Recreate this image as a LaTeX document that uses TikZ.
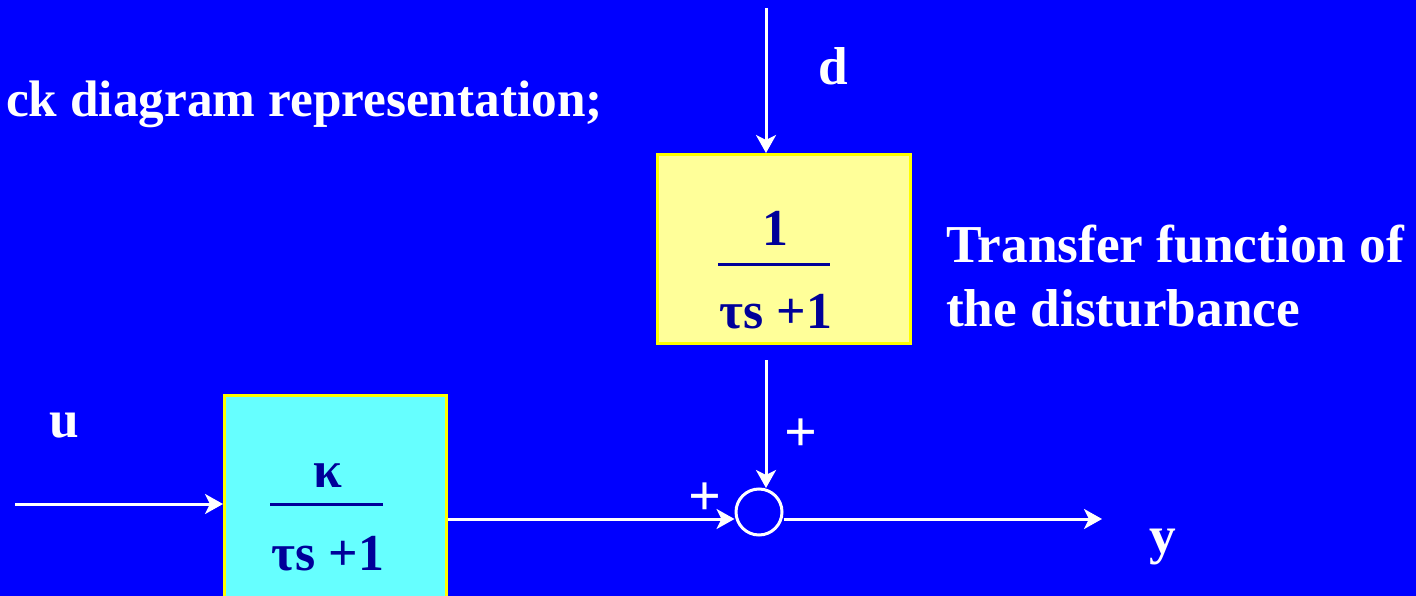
\documentclass[tikz,border=0pt]{standalone}
\usepackage{fontspec}
\setmainfont{Liberation Serif}
\usetikzlibrary{arrows.meta}
\definecolor{bgblue}{HTML}{0000FF}
\definecolor{boxyellow}{HTML}{FFFF99}
\definecolor{boxcyan}{HTML}{66FFFF}
\definecolor{edgeyellow}{HTML}{FFFF00}
\definecolor{inkblue}{HTML}{000099}
\tikzset{
  lbl/.style={text=white, font=\fontsize{53.5}{62}\selectfont\bfseries, inner sep=0pt},
  ttl/.style={text=white, font=\fontsize{51.5}{62}\selectfont\bfseries, inner sep=0pt},
  sgn/.style={text=white, font=\fontsize{58}{66}\selectfont\bfseries, inner sep=0pt},
  fr/.style={text=inkblue, font=\fontsize{52}{62}\selectfont\bfseries, inner sep=0pt},
  blk/.style={draw=edgeyellow, line width=3bp, inner sep=0pt},
  sig/.style={draw=white, line width=3bp, -{Stealth[length=18bp,width=20bp,inset=5bp]}},
  bar/.style={draw=inkblue, line width=3bp},
}
\begin{document}
\begin{tikzpicture}[x=1bp,y=-1bp]
\fill[bgblue] (0,0) rectangle (1416,596);
\useasboundingbox (0,0) rectangle (1416,596);
\begin{scope}
\clip (0,0) rectangle (1416,596);
% title
\node[ttl, anchor=base east] (title) at (603,117) {ck diagram representation;};
% disturbance block
\node[blk, fill=boxyellow, minimum width=253bp, minimum height=189bp, anchor=north west] (gd) at (656,153) {};
\node[fr, anchor=base] (gdnum) at (775,245) {1};
\draw[bar] (718,264) -- (830,264);
\node[fr, anchor=base] (gdden) at (776,328) {τs +1};
% process block
\node[blk, fill=boxcyan, minimum width=222bp, minimum height=240bp, anchor=north west] (gp) at (223,394) {};
\node[fr, anchor=base] (gpnum) at (328,487) {κ};
\draw[bar] (270,504) -- (383,504);
\node[fr, anchor=base] (gpden) at (328,570) {τs +1};
% summing junction
\node[draw=white, line width=3bp, circle, minimum size=46bp, inner sep=0pt] (sum) at (759,512) {};
% coordinates
\coordinate (dtop) at (766,8);
\coordinate (dbot) at (766,360);
\coordinate (uin) at (15,504);
\coordinate (yout) at (1102,519);
% connectors
\draw[sig] (dtop) -- (gd.north -| dtop);
\draw[sig] (dbot) -- (766,488);
\draw[sig] (uin) -- (gp.west |- uin);
\draw[sig] (gp.east |- yout) -- (sum.west |- yout);
\draw[sig] (sum.east |- yout) -- (yout);
% labels
\node[lbl, anchor=base] (dl) at (833,85) {d};
\node[lbl, anchor=base] (ul) at (64,437) {u};
\node[lbl, anchor=base] (yl) at (1163,553) {y};
\node[lbl, anchor=base west] (tf1) at (946,262) {Transfer function of};
\node[lbl, anchor=base west] (tf2) at (946,326) {the disturbance};
\node[sgn] (p1) at (801,435) {+};
\node[sgn] (p2) at (705,499) {+};
\end{scope}
\end{tikzpicture}
\end{document}
